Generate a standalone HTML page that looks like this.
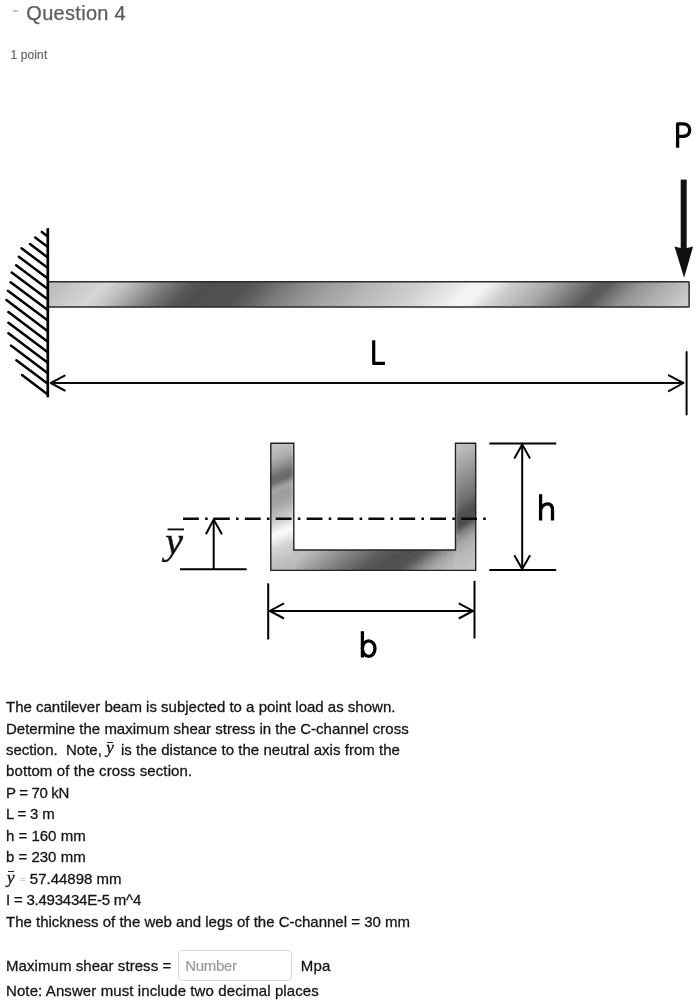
<!DOCTYPE html>
<html>
<head>
<meta charset="utf-8">
<title>Question 4</title>
<style>
  html, body { margin: 0; padding: 0; background: #ffffff; }
  body { width: 698px; height: 1004px; position: relative; overflow: hidden;
         font-family: "Liberation Sans", sans-serif; color: #1f1f1f; }
  .t { position: absolute; white-space: pre; margin: 0; }
  .title { left: 26.3px; top: 1px; font-size: 20px; line-height: 24px; color: #5c5c5c; letter-spacing: 0.3px; -webkit-text-stroke: 0.25px #5c5c5c; }
  .dash { left: 12.5px; top: 10.4px; width: 5px; height: 1.4px; background: #c6c6c6; position: absolute; }
  .pts { left: 10.6px; top: 48px; letter-spacing: 0.1px; -webkit-text-stroke: 0.2px #666; font-size: 12px; line-height: 15px; color: #666666; }
  .b { left: 6px; font-size: 15px; line-height: 21px; height: 21px; color: #161616; -webkit-text-stroke: 0.3px #161616; }
  .mi { font-family: "Liberation Serif", serif; font-style: italic; }
  #page { position: absolute; left: 0; top: 0; width: 698px; height: 1004px; will-change: transform; }
  svg { position: absolute; left: 0; top: 0; }
  .inp { position: absolute; left: 178.2px; top: 950.1px; width: 113.4px; height: 30.5px;
         border: 1px solid #d9d9d9; border-radius: 4px; box-sizing: border-box; background: #fff; }
  .ph { left: 185.3px; font-size: 15px; line-height: 21px; color: #9a9a9a; letter-spacing: -0.35px; -webkit-text-stroke: 0.2px #9a9a9a; }
  .yb { position: relative; display: inline-block; width: 10.5px; height: 15px; vertical-align: baseline; }
  .yb .mi { position: absolute; left: 0.3px; bottom: -0.9px; font-size: 17px; line-height: 17px; -webkit-text-stroke: 0.35px #161616; }
  .yb i { position: absolute; left: 1.0px; top: 1.6px; width: 6.2px; height: 1.1px; background: #222; }
  .eq { -webkit-text-stroke: 0; position: absolute; left: 14.2px; top: 1.2px; font-size: 9px; color: #9a9a9a; }
  .v57 { position: absolute; left: 23.8px; top: 0; }
</style>
</head>
<body>
<div id="page">
<div class="dash"></div>
<div class="t title">Question 4</div>
<div class="t pts">1 point</div>

<svg id="fig" width="698" height="1004" viewBox="0 0 698 1004">
  <defs>
    <linearGradient id="gBeam" gradientUnits="userSpaceOnUse" x1="48" y1="294.5" x2="369" y2="615.5">
      <stop offset="0.0000" stop-color="#bebebe"/>
      <stop offset="0.0421" stop-color="#cdcdcd"/>
      <stop offset="0.0732" stop-color="#d6d6d6"/>
      <stop offset="0.1044" stop-color="#c2c2c2"/>
      <stop offset="0.1340" stop-color="#a2a2a2"/>
      <stop offset="0.1589" stop-color="#868686"/>
      <stop offset="0.1838" stop-color="#6c6c6c"/>
      <stop offset="0.2087" stop-color="#575757"/>
      <stop offset="0.2368" stop-color="#4f4f4f"/>
      <stop offset="0.2928" stop-color="#525252"/>
      <stop offset="0.3146" stop-color="#5c5c5c"/>
      <stop offset="0.3598" stop-color="#7c7c7c"/>
      <stop offset="0.3925" stop-color="#8e8e8e"/>
      <stop offset="0.4268" stop-color="#9e9e9e"/>
      <stop offset="0.4938" stop-color="#b8b8b8"/>
      <stop offset="0.5607" stop-color="#cecece"/>
      <stop offset="0.6137" stop-color="#e4e4e4"/>
      <stop offset="0.6449" stop-color="#f2f2f2"/>
      <stop offset="0.6636" stop-color="#f6f6f6"/>
      <stop offset="0.6822" stop-color="#e8e8e8"/>
      <stop offset="0.7040" stop-color="#d0d0d0"/>
      <stop offset="0.7664" stop-color="#a8a8a8"/>
      <stop offset="0.8053" stop-color="#808080"/>
      <stop offset="0.8442" stop-color="#5a5a5a"/>
      <stop offset="0.8598" stop-color="#5c5c5c"/>
      <stop offset="0.9019" stop-color="#909090"/>
      <stop offset="0.9517" stop-color="#b0b0b0"/>
      <stop offset="1.0000" stop-color="#cacaca"/>
    </linearGradient>
    <linearGradient id="gL" gradientUnits="userSpaceOnUse" x1="282.30" y1="443.30" x2="326.13" y2="552.87">
      <stop offset="0.000" stop-color="#c2c2c2"/>
      <stop offset="0.092" stop-color="#b0b0b0"/>
      <stop offset="0.171" stop-color="#909090"/>
      <stop offset="0.234" stop-color="#6e6e6e"/>
      <stop offset="0.281" stop-color="#686868"/>
      <stop offset="0.312" stop-color="#888888"/>
      <stop offset="0.340" stop-color="#a8a8a8"/>
      <stop offset="0.383" stop-color="#9c9c9c"/>
      <stop offset="0.462" stop-color="#a4a4a4"/>
      <stop offset="0.541" stop-color="#bcbcbc"/>
      <stop offset="0.603" stop-color="#d0d0d0"/>
      <stop offset="0.659" stop-color="#ececec"/>
      <stop offset="0.698" stop-color="#fcfcfc"/>
      <stop offset="0.745" stop-color="#ececec"/>
      <stop offset="0.808" stop-color="#d4d4d4"/>
      <stop offset="0.902" stop-color="#c4c4c4"/>
      <stop offset="1.000" stop-color="#b6b6b6"/>
    </linearGradient>
    <linearGradient id="gW" gradientUnits="userSpaceOnUse" x1="270.80" y1="560.20" x2="344.56" y2="658.55">
      <stop offset="0.000" stop-color="#b6b6b6"/>
      <stop offset="0.113" stop-color="#c0c0c0"/>
      <stop offset="0.191" stop-color="#ababab"/>
      <stop offset="0.289" stop-color="#909090"/>
      <stop offset="0.362" stop-color="#7c7c7c"/>
      <stop offset="0.435" stop-color="#6a6a6a"/>
      <stop offset="0.509" stop-color="#585858"/>
      <stop offset="0.582" stop-color="#505050"/>
      <stop offset="0.679" stop-color="#525252"/>
      <stop offset="0.728" stop-color="#686868"/>
      <stop offset="0.777" stop-color="#8a8a8a"/>
      <stop offset="0.845" stop-color="#aaaaaa"/>
      <stop offset="0.918" stop-color="#b8b8b8"/>
      <stop offset="1.000" stop-color="#c2c2c2"/>
    </linearGradient>
    <linearGradient id="gR" gradientUnits="userSpaceOnUse" x1="465.60" y1="443.30" x2="521.67" y2="536.76">
      <stop offset="0.000" stop-color="#bebebe"/>
      <stop offset="0.131" stop-color="#a8a8a8"/>
      <stop offset="0.289" stop-color="#8a8a8a"/>
      <stop offset="0.446" stop-color="#6c6c6c"/>
      <stop offset="0.533" stop-color="#505050"/>
      <stop offset="0.627" stop-color="#4c4c4c"/>
      <stop offset="0.682" stop-color="#808080"/>
      <stop offset="0.761" stop-color="#a8a8a8"/>
      <stop offset="0.852" stop-color="#b8b8b8"/>
      <stop offset="1.000" stop-color="#c4c4c4"/>
    </linearGradient>
  </defs>

  <!-- beam -->
  <rect x="48" y="281.7" width="641.1" height="25.4" rx="0.8" fill="url(#gBeam)" stroke="#2a2a2a" stroke-width="1.5"/>

  <!-- wall hatch -->
  <path id="hatch" fill="none" stroke="#000" stroke-width="2.5" stroke-linecap="round"
        d="M41.8 231.9L47.8 236.4 M35.2 237.5L47.8 246.9 M30.0 244.1L47.8 257.5 M21.5 248.3L47.8 268.0 M18.8 256.8L47.8 278.5 M16.1 265.3L47.8 289.1 M11.7 272.5L47.8 299.6 M10.6 282.2L47.8 310.1 M7.9 290.7L47.8 320.6 M6.4 300.1L47.8 331.2 M8.4 312.1L47.8 341.7 M8.4 322.7L47.8 352.2 M8.4 333.2L47.8 362.8 M10.9 345.6L47.8 373.3 M16.4 360.3L47.8 383.8 M22.0 375.0L47.8 394.4"/>
  <!-- wall line -->
  <line id="wall" x1="47.8" y1="228.2" x2="47.8" y2="397.3" stroke="#000" stroke-width="2.7"/>

  <!-- load arrow P -->
  <line x1="683.7" y1="179.6" x2="683.7" y2="250" stroke="#111" stroke-width="6"/>
  <path d="M674.5 246.6 L683.8 248.8 L693.1 246.6 L684.1 277.8 Z" fill="#111"/>
  <path id="P" fill="none" stroke="#000" stroke-width="3.3" stroke-linejoin="round"
        d="M677.6 147.7 V123.9 H683 C687.5 123.9 689.7 126.6 689.7 130.1 C689.7 133.6 687.5 136.3 683 136.3 H677.6"/>

  <!-- L dimension -->
  <g fill="none" stroke="#0a0a0a" stroke-width="2" stroke-linecap="round" stroke-linejoin="round">
    <line x1="51.5" y1="383" x2="682.8" y2="383"/>
    <path d="M64.7 375.6 L50.8 383 L64.7 390.5"/>
    <path d="M668.8 375.3 L683.4 383 L668.8 391.1"/>
    <line x1="686.6" y1="352" x2="686.6" y2="414.6"/>
  </g>
  <path id="L" fill="none" stroke="#000" stroke-width="3.2" stroke-linejoin="round"
        d="M373.7 340.3 V363.4 H385"/>


  <!-- C-channel -->
  <clipPath id="cpC"><path d="M270.8 443.3 H293.8 V550 H455.5 V443.3 H475.7 V570.4 H270.8 Z"/></clipPath>
  <filter id="fB" x="-10%" y="-10%" width="120%" height="120%"><feGaussianBlur stdDeviation="1.6"/></filter>
  <g clip-path="url(#cpC)">
    <g filter="url(#fB)">
      <rect x="255" y="425" width="38.8" height="160" fill="url(#gL)"/>
      <rect x="455.5" y="425" width="36" height="160" fill="url(#gR)"/>
      <rect x="293.8" y="540" width="161.7" height="45" fill="url(#gW)"/>
    </g>
  </g>
  <path d="M270.8 443.3 H293.8 V550 H455.5 V443.3 H475.7 V570.4 H270.8 Z" fill="none" stroke="#222" stroke-width="1.4" stroke-linejoin="miter"/>

  <!-- neutral axis -->
  <line x1="183" y1="518.7" x2="485.9" y2="518.7" stroke="#0a0a0a" stroke-width="2.6"
        stroke-dasharray="15.9 6.2 2.6 6.2"/>

  <!-- y-bar dimension -->
  <g fill="none" stroke="#000" stroke-width="2">
    <line x1="180" y1="569.2" x2="246.7" y2="569.2"/>
    <line x1="213.7" y1="520" x2="213.7" y2="569"/>
    <path d="M205.9 534.3 L213.7 519.6 L221.9 534.3"/>
  </g>


  <!-- y-bar label -->
  <text id="ylab" transform="translate(165.3 553.6) scale(1.05 1)" x="0" y="0" font-family="Liberation Serif, serif" font-style="italic" font-size="38" fill="#111" stroke="#111" stroke-width="0.45">y</text>
  <line x1="167.6" y1="529.4" x2="184" y2="529.4" stroke="#111" stroke-width="1.9"/>

  <!-- h dimension -->
  <g fill="none" stroke="#000" stroke-width="2">
    <line x1="489.3" y1="443.6" x2="556.2" y2="443.6"/>
    <line x1="489.3" y1="570.1" x2="556.2" y2="570.1"/>
    <line x1="522.2" y1="445" x2="522.2" y2="569"/>
    <path d="M514.3 458.5 L522.2 444.6 L530.1 458.5"/>
    <path d="M514.3 555.2 L522.2 569.1 L530.1 555.2"/>
  </g>
  <g id="h" fill="none" stroke="#000" stroke-width="3.3">
    <path d="M540.6 494.2 V520.5"/>
    <path d="M540.6 509.5 C542 506 545 503.8 547.6 503.8 C551 503.8 552.5 506 552.5 510 V520.5"/>
  </g>

  <!-- b dimension -->
  <g fill="none" stroke="#000" stroke-width="2">
    <line x1="268.2" y1="583.3" x2="268.2" y2="639.5"/>
    <line x1="474.5" y1="580.8" x2="474.5" y2="638.5"/>
    <line x1="270" y1="610.9" x2="473" y2="610.9"/>
    <path d="M284 603.3 L269.8 610.9 L284 618.5"/>
    <path d="M458.8 603.3 L473 610.9 L458.8 618.5"/>
  </g>
  <g id="b" fill="none" stroke="#000" stroke-width="3.3">
    <path d="M362.4 631.2 V657.5"/>
    <ellipse cx="368.7" cy="648.6" rx="6.3" ry="7.8"/>
  </g>
</svg>

<div class="t b" style="top:696.10px;">The cantilever beam is subjected to a point load as shown.</div>
<div class="t b" style="top:717.55px;">Determine the maximum shear stress in the C-channel cross</div>
<div class="t b" style="top:739.00px;">section.  Note, <span class="yb"><span class="mi">y</span><i></i></span><span style="word-spacing:0.17px"> is the distance to the neutral axis from the</span></div>
<div class="t b" style="top:760.45px; letter-spacing:0.1px;">bottom of the cross section.</div>
<div class="t b" style="top:781.90px; letter-spacing:-0.35px;">P = 70 kN</div>
<div class="t b" style="top:803.35px; letter-spacing:-0.2px;">L = 3 m</div>
<div class="t b" style="top:824.80px;">h = 160 mm</div>
<div class="t b" style="top:846.25px;">b = 230 mm</div>
<div class="t b" style="top:867.70px;"><span class="yb" style="top:1px;left:0.6px"><span class="mi">y</span><i></i></span><span class="eq">=</span><span class="v57">57.44898 mm</span></div>
<div class="t b" style="top:889.15px; letter-spacing:-0.22px;">I = 3.493434E-5 m^4</div>
<div class="t b" style="top:910.60px;">The thickness of the web and legs of the C-channel = 30 mm</div>
<div class="t b" style="top:955.10px; letter-spacing:0.07px;">Maximum shear stress =</div>
<div class="t b" style="top:955.10px;left:300.7px;letter-spacing:0.3px;">Mpa</div>
<div class="t b" style="top:980.30px; letter-spacing:0.1px;">Note: Answer must include two decimal places</div>
<div class="inp"></div>
<div class="t ph" style="top:955.30px;">Number</div>
</div>
</body>
</html>
